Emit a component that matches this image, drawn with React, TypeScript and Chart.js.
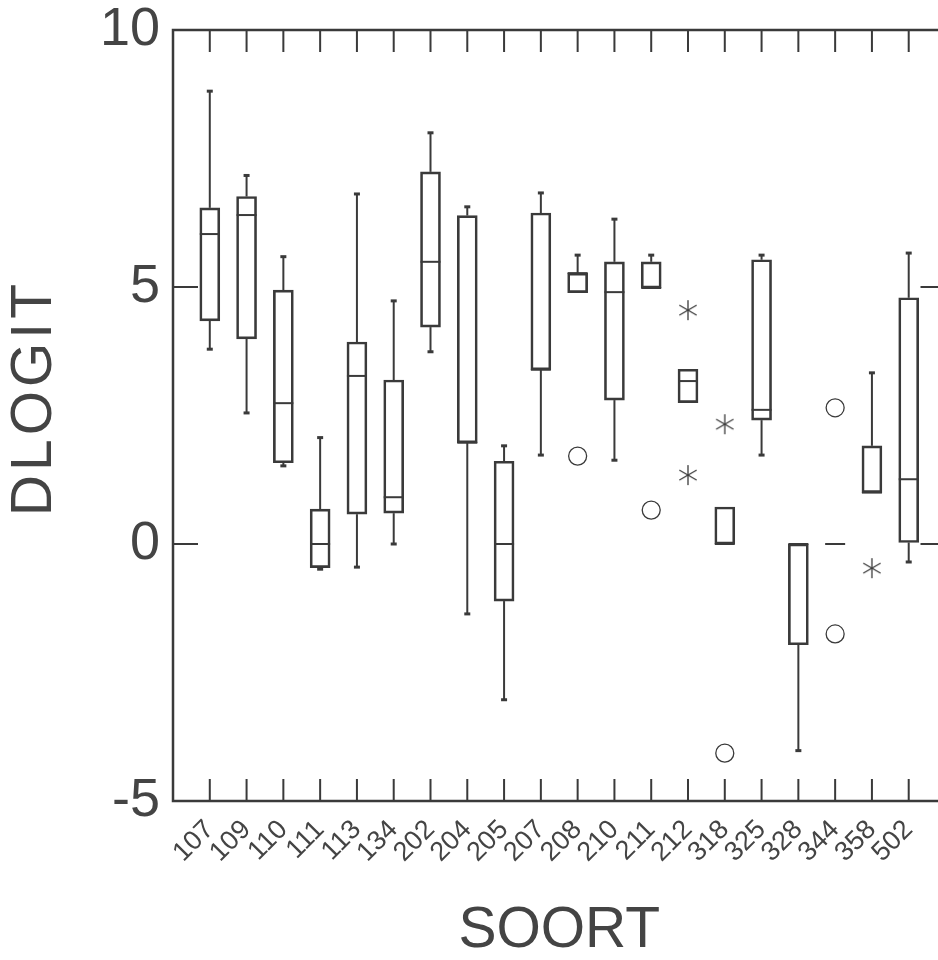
import React, { useEffect, useRef } from 'react';
import { Chart, registerables } from 'chart.js';

Chart.register(...registerables);

const categories = ['107', '109', '110', '111', '113', '134', '202', '204', '205', '207', '208', '210', '211', '212', '318', '325', '328', '344', '358', '502'];
const whiskerLow = [3.79, 2.55, 1.52, -0.49, -0.45, 0.0, 3.74, -1.36, -3.03, 1.73, 4.89, 1.63, 4.98, 2.75, 0.0, 1.73, -4.02, 0.0, 1.0, -0.35];
const q1 = [4.34, 3.99, 1.58, -0.46, 0.58, 0.6, 4.22, 1.97, -1.11, 3.39, 4.89, 2.8, 4.98, 2.75, 0.0, 2.41, -1.96, 0.0, 1.0, 0.03];
const median = [6.03, 6.4, 2.74, 0.0, 3.27, 0.91, 5.49, 1.97, 0.0, 3.39, 5.27, 4.9, 4.98, 3.17, 0.0, 2.61, 0.0, 0.0, 1.0, 1.26];
const q3 = [6.54, 6.76, 4.94, 0.68, 3.93, 3.19, 7.24, 6.39, 1.61, 6.44, 5.27, 5.49, 5.49, 3.4, 0.72, 5.53, 0.0, 0.0, 1.91, 4.79];
const whiskerHigh = [8.81, 7.17, 5.59, 2.07, 6.81, 4.73, 8.0, 6.56, 1.91, 6.83, 5.62, 6.32, 5.62, 3.4, 0.72, 5.62, 0.0, 0.0, 3.33, 5.66];
const circleCats = ['208', '211', '318', '344', '344'];
const circleVals = [1.71, 0.66, -4.07, 2.65, -1.75];
const starCats = ['212', '212', '318', '358'];
const starVals = [4.55, 1.34, 2.33, -0.47];
const yTickValues = [-5, 0, 5, 10];
const yTitle = 'DLOGIT';
const xTitle = 'SOORT';

const FONT = "'Liberation Sans', Arial, Helvetica, sans-serif";
const LINE = '#3a3a3a';
const TEXT = '#444444';

function makeStar(): HTMLCanvasElement {
  const c = document.createElement('canvas');
  c.width = 24;
  c.height = 24;
  const g = c.getContext('2d')!;
  g.strokeStyle = LINE;
  g.lineWidth = 1.3;
  const r = 10;
  for (let k = 0; k < 3; k++) {
    const a = Math.PI / 2 + (k * Math.PI) / 3;
    g.beginPath();
    g.moveTo(12 + r * Math.cos(a), 12 + r * Math.sin(a));
    g.lineTo(12 - r * Math.cos(a), 12 - r * Math.sin(a));
    g.stroke();
  }
  return c;
}

function zeroPadding(s: any) {
  s.paddingTop = 0;
  s.paddingBottom = 0;
  s.paddingLeft = 0;
  s.paddingRight = 0;
}

const boxPlugin = {
  id: 'boxExtras',
  afterDatasetsDraw(chart: any) {
    const { ctx, scales } = chart;
    const x = scales.x;
    const y = scales.y;
    ctx.save();
    ctx.strokeStyle = LINE;
    categories.forEach((_c, i) => {
      const px = x.getPixelForValue(i + 1);
      ctx.lineWidth = 2;
      if (whiskerHigh[i] > q3[i]) {
        ctx.beginPath();
        ctx.moveTo(px, y.getPixelForValue(q3[i]));
        ctx.lineTo(px, y.getPixelForValue(whiskerHigh[i]));
        ctx.stroke();
        ctx.lineWidth = 3;
        ctx.beginPath();
        ctx.moveTo(px - 3, y.getPixelForValue(whiskerHigh[i]));
        ctx.lineTo(px + 3, y.getPixelForValue(whiskerHigh[i]));
        ctx.stroke();
        ctx.lineWidth = 2;
      }
      if (whiskerLow[i] < q1[i]) {
        ctx.beginPath();
        ctx.moveTo(px, y.getPixelForValue(q1[i]));
        ctx.lineTo(px, y.getPixelForValue(whiskerLow[i]));
        ctx.stroke();
        ctx.lineWidth = 3;
        ctx.beginPath();
        ctx.moveTo(px - 3, y.getPixelForValue(whiskerLow[i]));
        ctx.lineTo(px + 3, y.getPixelForValue(whiskerLow[i]));
        ctx.stroke();
        ctx.lineWidth = 2;
      }
      const my = y.getPixelForValue(median[i]);
      ctx.lineWidth = 2;
      ctx.beginPath();
      ctx.moveTo(px - 10, my);
      ctx.lineTo(px + 10, my);
      ctx.stroke();
    });
    ctx.restore();
  },
  afterDraw(chart: any) {
    const { ctx, chartArea, scales } = chart;
    const { left, right, top, bottom } = chartArea;
    const x = scales.x;
    const y = scales.y;
    ctx.save();
    ctx.strokeStyle = LINE;
    ctx.lineWidth = 2.5;
    ctx.strokeRect(left, top, right - left, bottom - top);
    ctx.lineWidth = 2;
    categories.forEach((_c, i) => {
      const px = x.getPixelForValue(i + 1);
      ctx.beginPath();
      ctx.moveTo(px, top);
      ctx.lineTo(px, top + 22);
      ctx.moveTo(px, bottom);
      ctx.lineTo(px, bottom - 22);
      ctx.stroke();
    });
    yTickValues.forEach((v) => {
      const py = y.getPixelForValue(v);
      ctx.beginPath();
      ctx.moveTo(left, py);
      ctx.lineTo(left + 25, py);
      ctx.moveTo(right, py);
      ctx.lineTo(right - 25, py);
      ctx.stroke();
    });
    // y-axis title with slight letter spacing
    ctx.fillStyle = TEXT;
    ctx.font = `57px ${FONT}`;
    try {
      (ctx as any).letterSpacing = '4px';
    } catch (e) {}
    ctx.textAlign = 'center';
    ctx.textBaseline = 'middle';
    ctx.translate(35, y.getPixelForValue(2.8));
    ctx.rotate(-Math.PI / 2);
    ctx.fillText(yTitle, 2, 0);
    ctx.restore();
  },
};

export default function App() {
  const ref = useRef<HTMLCanvasElement | null>(null);
  useEffect(() => {
    if (!ref.current) return;
    const star = makeStar();
    const labels = ['', ...categories, ''];
    const boxData: any[] = [null, ...categories.map((_c, i) => [q1[i], q3[i]]), null];
    const chart = new Chart(ref.current, {
      type: 'bar',
      data: {
        labels,
        datasets: [
          {
            type: 'bar',
            data: boxData,
            backgroundColor: 'rgba(255,255,255,0)',
            borderColor: LINE,
            borderWidth: 2,
            borderSkipped: false,
            barThickness: 20,
            grouped: false,
          } as any,
          {
            type: 'scatter',
            data: circleCats.map((c, i) => ({ x: c, y: circleVals[i] })),
            pointStyle: 'circle',
            pointRadius: 9,
            borderColor: LINE,
            borderWidth: 1.3,
            backgroundColor: 'rgba(255,255,255,0)',
          } as any,
          {
            type: 'scatter',
            data: starCats.map((c, i) => ({ x: c, y: starVals[i] })),
            pointStyle: star,
            pointRadius: 10,
          } as any,
        ],
      },
      options: {
        animation: false,
        responsive: false,
        devicePixelRatio: 1,
        layout: { padding: { left: 0, top: 30, right: 14.5, bottom: 0 } },
        plugins: { legend: { display: false }, tooltip: { enabled: false }, title: { display: false } },
        scales: {
          x: {
            type: 'category',
            offset: false,
            grid: { display: false, drawTicks: false },
            border: { display: false },
            ticks: {
              autoSkip: false,
              minRotation: 45,
              maxRotation: 45,
              padding: 13,
              color: TEXT,
              font: { size: 27, family: FONT },
            },
            title: {
              display: true,
              text: xTitle,
              color: TEXT,
              font: { size: 57, family: FONT, lineHeight: 1 },
              padding: { top: 0, bottom: 0 },
            },
            afterFit: (s: any) => {
              s.height = 159;
              zeroPadding(s);
            },
          },
          y: {
            min: -5,
            max: 10,
            grid: { display: false, drawTicks: false },
            border: { display: false },
            ticks: {
              stepSize: 5,
              padding: 13,
              color: TEXT,
              font: { size: 54, family: FONT },
            },
            title: { display: false },
            afterFit: (s: any) => {
              s.width = 173;
              zeroPadding(s);
            },
          },
        },
      } as any,
      plugins: [boxPlugin],
    });
    return () => chart.destroy();
  }, []);
  return (
    <div style={{ position: 'absolute', left: 0, top: 0, width: 938, height: 960, overflow: 'hidden', background: '#fff' }}>
      <canvas ref={ref} width={960} height={960} style={{ display: 'block' }} />
    </div>
  );
}
